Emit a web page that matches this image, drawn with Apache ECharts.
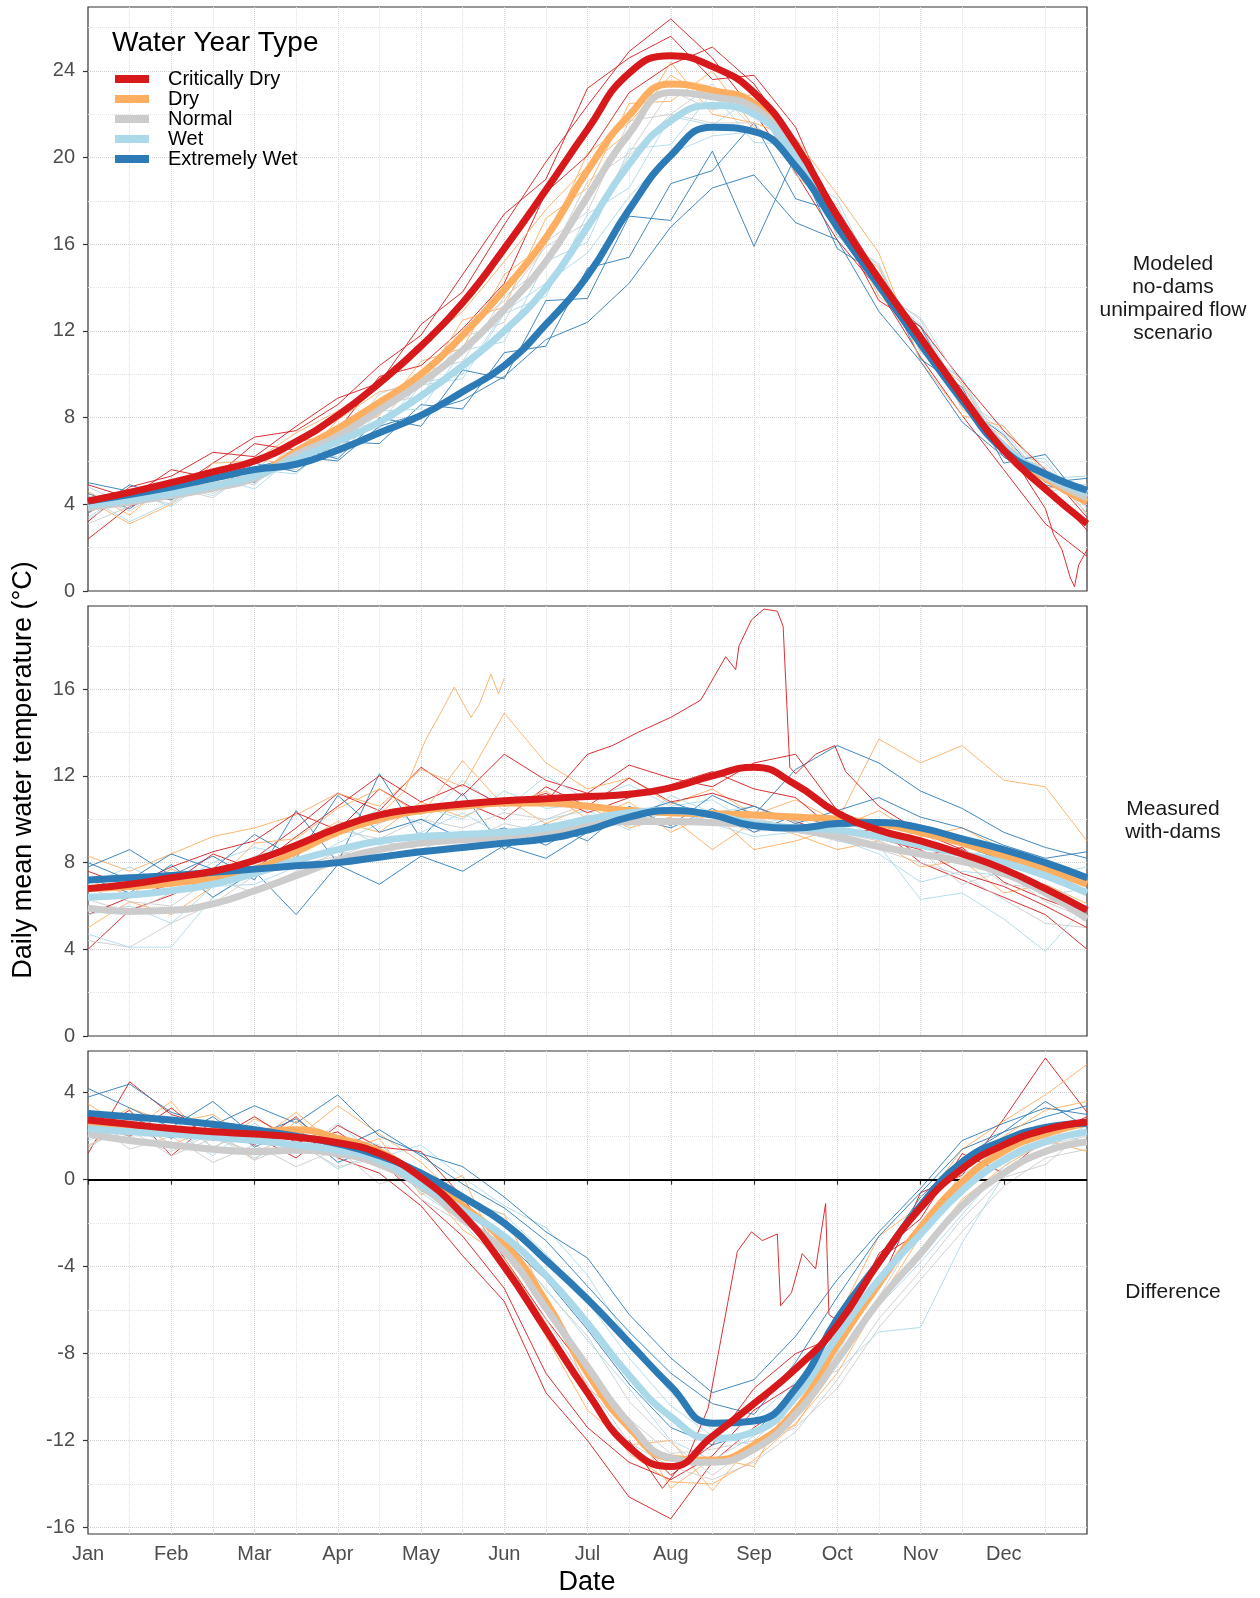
<!DOCTYPE html>
<html>
<head>
<meta charset="utf-8">
<script src="https://cdn.jsdelivr.net/npm/echarts@6/dist/echarts.min.js"></script>
<style>
  html, body { margin: 0; padding: 0; background: #fff; }
  #chart { width: 1260px; height: 1598px; }
</style>
</head>
<body>
<div id="chart"></div>
<script>
// x in months since 1 Jan, sampled every half month
const xs = [0, 0.5, 1, 1.5, 2, 2.5, 3, 3.5, 4, 4.5, 5, 5.5, 6, 6.5, 7, 7.5, 8, 8.5, 9, 9.5, 10, 10.5, 11, 11.5, 12]
const months = ['Jan', 'Feb', 'Mar', 'Apr', 'May', 'Jun', 'Jul', 'Aug', 'Sep', 'Oct', 'Nov', 'Dec']
const monthTicks = [0, 1, 2, 3, 4, 5, 6, 7, 8, 9, 10, 11]
const types = ['Critically Dry', 'Dry', 'Normal', 'Wet', 'Extremely Wet']
const colors = ['#d7191c', '#fdae61', '#cccccc', '#abd9e9', '#2c7bb6']

// --- Modeled no-dams (smoothed) ---
const modCD = [4.15, 4.55, 5.0, 5.5, 6.0, 6.9, 8.1, 9.6, 11.3, 13.3, 15.8, 18.5, 21.3, 23.9, 24.7, 24.2, 23.0, 20.6, 17.3, 14.4, 11.7, 9.0, 6.5, 4.7, 3.1]
const modDry = [3.9, 4.15, 4.5, 4.85, 5.3, 6.45, 7.5, 8.7, 10.0, 11.8, 13.9, 16.3, 19.4, 21.95, 23.4, 23.1, 22.5, 20.3, 17.2, 14.4, 11.6, 8.9, 6.6, 5.2, 4.1]
const modNormal = [3.85, 4.1, 4.4, 4.75, 5.2, 6.3, 7.15, 8.35, 9.6, 11.1, 13.0, 15.2, 18.2, 21.1, 23.0, 22.8, 22.3, 20.1, 17.2, 14.4, 11.7, 9.0, 6.7, 5.3, 4.3]
const modWet = [3.95, 4.2, 4.5, 4.85, 5.3, 6.1, 6.9, 7.8, 9.0, 10.4, 12.0, 14.0, 16.8, 19.7, 21.7, 22.4, 22.0, 20.0, 17.1, 14.3, 11.6, 9.0, 6.7, 5.4, 4.5]
const modEW = [4.15, 4.45, 4.8, 5.2, 5.6, 5.85, 6.5, 7.3, 8.1, 9.2, 10.4, 12.3, 14.55, 17.6, 20.1, 21.4, 21.2, 19.6, 16.8, 14.1, 11.4, 8.8, 6.5, 5.4, 4.65]

// --- Measured with-dams (smoothed) ---
const meaCD = [6.8, 7.0, 7.3, 7.6, 8.1, 8.8, 9.6, 10.2, 10.5, 10.7, 10.85, 10.95, 11.05, 11.15, 11.45, 12.0, 12.4, 11.6, 10.3, 9.5, 9.0, 8.4, 7.7, 6.8, 5.8]
const meaDry = [6.8, 6.9, 7.05, 7.3, 7.7, 8.5, 9.4, 10.0, 10.4, 10.6, 10.75, 10.75, 10.6, 10.4, 10.3, 10.25, 10.2, 10.1, 10.0, 9.8, 9.4, 8.9, 8.3, 7.7, 7.0]
const meaNormal = [5.9, 5.75, 5.8, 6.1, 6.7, 7.4, 8.1, 8.6, 8.9, 9.05, 9.2, 9.4, 9.7, 9.9, 9.9, 9.85, 9.75, 9.55, 9.2, 8.75, 8.4, 8.05, 7.5, 6.6, 5.4]
const meaWet = [6.4, 6.5, 6.7, 7.0, 7.5, 8.1, 8.6, 9.0, 9.2, 9.3, 9.4, 9.6, 10.0, 10.3, 10.4, 10.2, 9.8, 9.6, 9.5, 9.2, 8.8, 8.4, 8.0, 7.4, 6.6]
const meaEW = [7.2, 7.3, 7.4, 7.55, 7.7, 7.85, 8.0, 8.25, 8.5, 8.7, 8.9, 9.1, 9.5, 10.1, 10.4, 10.2, 9.7, 9.6, 9.8, 9.85, 9.6, 9.1, 8.6, 8.0, 7.3]

// --- Difference (smoothed) ---
const difCD = [2.75, 2.55, 2.35, 2.2, 2.1, 1.95, 1.7, 1.2, 0.1, -1.6, -4.0, -6.9, -9.8, -12.3, -13.2, -11.8, -10.3, -8.7, -6.7, -3.8, -1.3, 0.5, 1.6, 2.3, 2.65]
const difDry = [2.65, 2.45, 2.3, 2.2, 2.2, 2.3, 1.9, 1.3, 0.1, -1.2, -2.9, -5.6, -8.9, -11.4, -12.8, -12.9, -12.2, -10.6, -7.6, -4.8, -2.2, -0.1, 1.3, 2.1, 2.6]
const difNormal = [2.1, 1.8, 1.6, 1.4, 1.3, 1.35, 1.2, 0.7, -0.3, -1.8, -3.3, -5.9, -8.6, -11.2, -12.8, -13.0, -12.4, -10.8, -8.3, -5.6, -3.4, -1.2, 0.3, 1.3, 1.75]
const difWet = [2.35, 2.2, 2.1, 1.95, 1.8, 1.6, 1.35, 0.9, -0.2, -1.4, -2.6, -4.4, -6.6, -9.0, -10.9, -11.9, -11.6, -10.0, -7.2, -4.6, -2.5, -0.5, 0.9, 1.75, 2.2]
const difEW = [3.05, 2.9, 2.75, 2.55, 2.3, 2.0, 1.65, 1.1, 0.3, -0.8, -2.0, -3.7, -5.5, -7.5, -9.5, -11.2, -11.1, -9.6, -6.4, -3.8, -1.2, 0.8, 1.8, 2.4, 2.6]

// --- individual years (thin lines), three per type and panel ---
const modThin = [
  [3.2, 4.8, 5.3, 6.4, 6.2, 7.6, 8.9, 9.6, 12.3, 13.8, 16.9, 19.8, 22.4, 24.9, 26.4, 24.6, 22.1, 19.3, 16.2, 13.9, 10.8, 8.1, 5.6, 3.1, 1.6],
  [3.6, 4.5, 4.2, 5.6, 5.1, 6.9, 7.2, 8.1, 10.6, 11.2, 14.6, 16.0, 20.2, 21.6, 23.8, 22.7, 22.9, 19.2, 17.5, 13.6, 12.0, 8.4, 7.1, 4.8, 4.6],
  [4.4, 3.7, 4.8, 4.3, 5.7, 5.6, 7.5, 7.7, 10.1, 10.6, 13.6, 15.0, 18.9, 20.2, 23.1, 22.2, 22.6, 19.4, 17.8, 13.9, 12.3, 8.7, 7.4, 5.0, 4.9],
  [4.8, 3.9, 4.9, 4.4, 5.6, 5.4, 7.1, 7.2, 9.5, 9.8, 12.8, 13.6, 17.4, 18.6, 21.9, 21.5, 22.8, 19.2, 18.1, 14.0, 12.5, 8.8, 7.6, 5.2, 5.3],
  [4.5, 3.8, 5.1, 4.6, 5.9, 5.5, 6.9, 6.8, 8.6, 8.4, 11.0, 11.3, 14.9, 15.4, 18.8, 19.4, 21.6, 18.1, 17.5, 13.8, 12.2, 8.6, 7.2, 5.0, 5.2],
  [4.9, 4.3, 5.6, 5.2, 6.8, 6.5, 7.4, 9.9, 10.4, 12.1, 14.2, 18.4, 20.1, 23.0, 24.3, 25.1, 23.4, 20.7, 17.6, 14.6, 11.7, 8.9, 6.2, 4.9, 2.8],
  [4.6, 3.5, 5.1, 4.6, 6.1, 5.8, 7.9, 9.2, 9.5, 12.5, 13.1, 17.2, 18.6, 22.5, 22.6, 24.0, 21.4, 20.5, 16.4, 14.9, 11.1, 9.6, 6.3, 5.6, 3.6],
  [3.3, 4.5, 4.0, 5.3, 4.9, 6.6, 6.5, 8.6, 9.0, 11.7, 12.4, 16.1, 17.5, 21.7, 22.0, 23.4, 21.3, 20.5, 16.6, 15.0, 11.2, 9.8, 6.5, 5.9, 3.8],
  [3.4, 4.6, 3.9, 5.3, 4.7, 6.3, 6.2, 8.3, 8.4, 11.1, 11.5, 15.2, 16.1, 20.4, 20.6, 23.0, 20.7, 20.6, 16.4, 15.1, 11.0, 9.8, 6.2, 6.1, 3.5],
  [3.6, 4.9, 4.3, 5.6, 5.0, 6.6, 6.1, 8.0, 7.6, 10.2, 9.8, 13.4, 13.5, 17.3, 17.1, 20.3, 15.9, 20.1, 15.8, 14.6, 10.7, 9.4, 5.9, 6.3, 3.9],
  [2.4, 3.9, 4.6, 5.9, 7.1, 7.4, 8.6, 10.4, 11.8, 14.6, 17.4, 19.0, 23.2, 24.6, 25.6, 23.6, 23.8, 21.4, 17.0, 13.4, 12.2, 9.7, 7.4, 5.6, 3.4],
  [4.2, 3.1, 4.0, 5.9, 6.0, 7.3, 8.3, 9.4, 11.4, 12.9, 15.2, 17.6, 19.6, 21.2, 24.4, 22.0, 21.6, 20.9, 18.3, 15.6, 10.6, 8.1, 7.6, 5.4, 4.4],
  [3.1, 3.9, 5.2, 4.5, 5.6, 7.0, 6.7, 9.1, 9.8, 11.9, 13.4, 15.9, 17.0, 20.1, 22.0, 21.6, 21.6, 19.6, 16.6, 13.8, 12.6, 9.5, 6.4, 5.7, 4.1],
  [4.3, 3.2, 4.1, 5.4, 6.0, 6.5, 7.4, 7.5, 9.6, 10.0, 12.9, 14.2, 15.6, 18.2, 20.2, 21.0, 21.2, 20.2, 17.0, 14.7, 11.2, 8.5, 7.3, 4.6, 4.8],
  [5.0, 4.6, 4.2, 5.3, 5.7, 6.2, 6.0, 7.6, 8.2, 8.8, 9.9, 11.6, 12.4, 14.2, 16.8, 18.6, 19.2, 17.0, 16.2, 12.9, 10.6, 7.8, 6.2, 4.9, 4.4]
]
const meaThin = [
  [4.0, 5.8, 6.5, 7.4, 8.2, 9.6, 11.2, 10.4, 12.4, 11.1, 13.0, 11.8, 11.2, 12.5, 11.9, 11.5, 12.6, 13.0, 10.4, 9.6, 8.0, 7.2, 6.4, 5.6, 4.0],
  [8.3, 7.6, 8.4, 9.2, 9.6, 10.2, 11.2, 10.6, 12.3, 11.5, 14.9, 12.6, 11.4, 11.9, 10.7, 11.4, 10.2, 10.9, 9.9, 13.7, 12.6, 13.4, 11.8, 11.5, 9.0],
  [4.4, 4.1, 5.2, 6.1, 7.4, 7.9, 8.3, 9.0, 8.6, 9.4, 9.0, 9.8, 9.5, 10.2, 9.9, 9.7, 10.1, 9.5, 9.0, 8.6, 8.0, 7.4, 6.3, 5.2, 5.0],
  [4.7, 4.1, 4.1, 6.4, 7.6, 8.6, 9.4, 10.5, 9.8, 11.8, 10.4, 12.0, 10.9, 11.6, 10.6, 10.9, 9.7, 10.2, 9.0, 8.8, 6.3, 6.6, 5.4, 3.9, 6.1],
  [7.8, 8.6, 7.4, 8.3, 7.2, 10.4, 8.0, 12.1, 9.1, 11.2, 8.6, 9.8, 9.0, 10.6, 9.7, 11.1, 10.2, 12.3, 13.4, 12.6, 11.3, 10.5, 9.4, 8.7, 8.2],
  [7.6, 6.9, 7.8, 8.5, 9.0, 10.3, 9.5, 11.4, 10.3, 10.8, 10.0, 11.5, 10.6, 11.9, 10.8, 11.2, 10.6, 9.9, 9.2, 9.6, 8.3, 8.7, 7.1, 6.3, 5.6],
  [5.0, 6.2, 5.6, 6.9, 7.4, 8.8, 9.9, 9.4, 10.8, 10.1, 11.0, 9.8, 10.6, 9.6, 10.1, 8.6, 9.9, 9.3, 8.6, 9.0, 7.8, 8.1, 6.6, 7.0, 6.1],
  [6.3, 5.7, 6.6, 7.2, 8.3, 8.8, 9.5, 9.1, 10.0, 9.6, 10.3, 10.0, 10.7, 10.3, 10.5, 10.1, 9.4, 9.8, 9.4, 8.8, 8.5, 7.0, 7.6, 6.2, 5.4],
  [7.0, 7.8, 6.9, 8.0, 8.7, 8.3, 9.8, 8.8, 9.4, 10.3, 9.2, 10.0, 10.4, 9.5, 11.1, 10.3, 10.6, 9.9, 10.1, 9.1, 9.4, 8.3, 8.7, 7.4, 7.8],
  [7.3, 6.6, 7.9, 6.4, 7.6, 5.6, 7.9, 7.0, 8.3, 7.6, 8.8, 8.2, 9.4, 10.1, 9.6, 10.5, 9.4, 10.2, 9.6, 9.9, 9.3, 8.8, 8.1, 7.6, 7.2],
  [5.6, 6.4, 7.0, 8.4, 7.7, 9.2, 10.6, 12.0, 10.8, 11.6, 10.6, 11.2, 10.3, 11.0, 11.6, 12.2, 11.4, 11.0, 9.4, 9.1, 8.6, 7.5, 6.9, 6.0, 5.0],
  [7.2, 6.5, 7.7, 7.0, 8.9, 9.1, 10.5, 11.4, 10.2, 12.7, 10.6, 11.3, 10.0, 10.8, 9.4, 10.3, 8.6, 9.0, 9.6, 10.4, 9.2, 9.6, 8.6, 8.0, 7.3],
  [6.8, 6.2, 6.0, 7.3, 6.6, 7.6, 8.5, 8.2, 9.3, 8.9, 9.8, 9.4, 10.2, 9.7, 10.4, 9.9, 10.0, 9.6, 9.4, 9.0, 8.3, 8.5, 7.0, 6.8, 5.6],
  [5.6, 6.0, 5.2, 6.9, 7.0, 7.8, 8.9, 9.8, 10.6, 10.0, 11.3, 10.5, 10.7, 10.1, 10.4, 9.8, 9.2, 9.4, 9.1, 8.4, 7.1, 7.6, 7.4, 6.5, 6.8],
  [8.0, 7.2, 8.4, 7.7, 9.3, 8.2, 11.1, 9.4, 10.0, 9.1, 9.6, 8.8, 9.9, 10.2, 10.8, 10.1, 10.6, 9.8, 10.4, 11.0, 10.1, 9.6, 8.8, 8.2, 8.5]
]
const difThin = [
  [1.2, 4.5, 3.0, 2.4, 1.6, 2.9, 1.0, 0.3, -1.2, -3.5, -5.6, -9.8, -12.0, -14.6, -15.6, -13.0, -11.4, -10.1, -7.8, -4.9, -0.6, 0.2, 2.8, 5.6, 3.1],
  [3.5, 2.2, 3.6, 1.4, 2.8, 1.9, 3.4, 2.1, 0.8, -1.0, -1.6, -5.5, -9.6, -11.0, -14.2, -12.8, -13.2, -9.8, -6.4, -2.6, -1.2, 1.4, 2.7, 3.9, 5.3],
  [2.8, 1.4, 2.0, 0.8, 1.6, 0.6, 1.4, -0.2, 0.4, -1.5, -2.6, -5.1, -7.2, -10.2, -12.1, -13.6, -12.2, -11.4, -9.6, -6.8, -4.6, -2.4, -0.3, 1.0, 1.4],
  [3.1, 2.0, 2.8, 1.5, 2.3, 1.2, 2.6, 1.0, 1.6, 0.1, -1.2, -2.2, -4.4, -7.4, -9.8, -11.5, -11.0, -9.3, -8.8, -7.0, -6.8, -2.9, 0.2, 1.4, 2.5],
  [3.8, 4.4, 3.1, 2.5, 3.4, 2.6, 3.9, 2.0, 1.2, 0.6, -0.8, -2.4, -3.6, -6.2, -8.2, -9.8, -9.2, -7.2, -4.6, -2.4, -0.4, 1.8, 2.6, 3.3, 3.0],
  [2.0, 3.2, 1.1, 2.7, 2.0, 1.0, 2.5, 1.5, 1.3, -0.8, -3.6, -6.4, -8.9, -11.6, -13.6, -12.2, -9.6, -8.0, -7.2, -3.4, -1.8, 1.2, 0.3, 1.9, 2.2],
  [1.5, 2.9, 1.6, 2.4, 0.9, 2.7, 1.2, 1.9, -0.7, 0.2, -4.0, -7.2, -10.6, -12.2, -12.0, -14.3, -12.0, -11.3, -8.4, -5.8, -3.3, -0.9, 0.6, 1.8, 1.3],
  [1.6, 2.3, 1.1, 1.9, 1.3, 2.0, 1.0, 1.4, -0.1, -1.0, -3.4, -5.8, -8.6, -11.0, -12.6, -12.4, -12.0, -10.2, -8.2, -5.4, -2.2, -0.6, 0.8, 1.6, 2.0],
  [1.8, 2.6, 1.4, 2.2, 1.0, 1.8, 0.5, 1.3, -0.6, -1.9, -3.0, -5.0, -7.4, -9.6, -12.0, -12.9, -11.8, -10.6, -8.0, -4.6, -2.0, 0.2, 1.6, 2.3, 1.7],
  [2.5, 3.0, 1.9, 2.9, 1.5, 2.4, 0.8, 1.5, -0.5, -1.3, -2.8, -4.6, -6.9, -9.4, -11.4, -12.2, -11.6, -9.9, -6.6, -3.6, -0.8, 1.0, 2.2, 2.9, 3.4],
  [2.6, 2.0, 3.3, 1.8, 2.9, 1.7, 2.2, 0.9, -0.9, -2.6, -5.0, -8.9, -11.4, -13.0, -13.8, -12.7, -10.6, -9.4, -6.9, -3.6, -2.4, -0.2, 1.5, 2.0, 2.9],
  [2.2, 3.3, 2.6, 3.0, 1.7, 3.1, 1.5, 0.6, 0.0, -2.3, -3.6, -6.6, -9.9, -12.6, -13.9, -14.0, -12.9, -11.2, -8.9, -5.6, -2.6, 0.4, 2.0, 3.2, 3.6],
  [2.5, 2.0, 1.3, 2.1, 0.9, 1.7, 0.6, 1.0, -0.9, -2.0, -4.0, -6.4, -9.4, -12.1, -13.2, -13.8, -13.0, -11.6, -9.2, -6.4, -4.2, -1.8, 0.1, 0.7, 2.3],
  [1.4, 2.9, 2.3, 1.1, 2.6, 1.3, 2.0, 1.6, 0.2, -0.9, -1.6, -3.4, -5.6, -8.2, -10.4, -11.8, -12.2, -10.7, -8.4, -5.8, -3.8, -1.6, 0.6, 2.4, 2.7],
  [4.2, 3.3, 2.4, 3.6, 2.0, 2.8, 1.4, 2.3, 1.1, -0.2, -1.3, -2.8, -4.9, -7.0, -8.9, -10.3, -10.8, -8.4, -5.4, -2.6, -0.6, 1.4, 2.2, 3.6, 2.4]
]
// type index of each thin line (same order in every panel)
const thinType = [0, 1, 2, 3, 4, 0, 1, 2, 3, 4, 0, 1, 2, 3, 4]

// a few odd years drawn on their own x positions
const modDipX = [11.0, 11.3, 11.5, 11.6, 11.7, 11.8, 11.85, 11.9, 12.0]
const modDipY = [6.9, 5.0, 3.8, 2.6, 1.9, 0.6, 0.2, 1.2, 1.9]
const meaSpikeX = [5.5, 6.0, 6.3, 6.6, 7.0, 7.36, 7.66, 7.78, 7.82, 7.97, 8.12, 8.28, 8.35, 8.43, 8.5, 8.74, 8.97, 9.1, 9.5, 10, 10.5, 11, 11.5, 12]
const meaSpikeY = [10.8, 13.0, 13.4, 14.0, 14.7, 15.5, 17.5, 16.9, 18.0, 19.2, 19.7, 19.6, 18.9, 12.4, 12.1, 13.0, 13.4, 12.2, 10.6, 9.4, 8.6, 7.6, 6.6, 5.9]
const meaJumpX = [3.5, 3.8, 4.06, 4.25, 4.4, 4.6, 4.7, 4.84, 4.93, 5.0]
const meaJumpY = [10.2, 11.3, 13.7, 15.0, 16.1, 14.7, 15.3, 16.7, 15.8, 16.5]
const difBumpX = [6.5, 6.9, 7.2, 7.45, 7.6, 7.8, 7.97, 8.1, 8.28, 8.32, 8.45, 8.58, 8.74, 8.86, 8.9, 9.0, 9.3, 9.6]
const difBumpY = [-12.0, -14.2, -12.8, -10.5, -7.4, -3.3, -2.4, -2.8, -2.5, -5.8, -5.2, -3.4, -4.1, -1.1, -6.2, -6.5, -5.0, -3.4]

// y tick labels and grid lines
const yTicks = [[0, 4, 8, 12, 16, 20, 24], [0, 4, 8, 12, 16], [-16, -12, -8, -4, 0, 4]]
const yGrid = [
  [2, 4, 6, 8, 10, 12, 14, 16, 18, 20, 22, 24, 26],
  [2, 4, 6, 8, 10, 12, 14, 16, 18],
  [-16, -14, -12, -10, -8, -6, -4, -2, 2, 4]
]
const yRange = [[0, 26.95], [0, 19.84], [-16.3, 5.92]]

const smooth = [
  [modCD, modDry, modNormal, modWet, modEW],
  [meaCD, meaDry, meaNormal, meaWet, meaEW],
  [difCD, difDry, difNormal, difWet, difEW]
]
const thins = [modThin, meaThin, difThin]

const FONT = '"Liberation Sans", Arial, sans-serif'
const chart = echarts.init(document.getElementById('chart'), null, { renderer: 'canvas' })

const pair = (xArr, yArr) => xArr.map((x, i) => [x, yArr[i]])

function thinLine(p, color, xArr, yArr) {
  return {
    type: 'line', xAxisIndex: p, yAxisIndex: p, data: pair(xArr, yArr),
    symbol: 'none', silent: true, z: 2,
    lineStyle: { color: color, width: 0.9 }, itemStyle: { color: color }
  }
}

function thickLine(p, i) {
  return {
    name: types[i], type: 'line', xAxisIndex: p, yAxisIndex: p, data: pair(xs, smooth[p][i]),
    symbol: 'none', smooth: 0.5, silent: true, z: 4,
    lineStyle: { color: colors[i], width: 7 }, itemStyle: { color: colors[i] }
  }
}

const grids = [
  { left: 88, top: 7, width: 999, height: 584 },
  { left: 88, top: 606, width: 999, height: 430 },
  { left: 88, top: 1051, width: 999, height: 483 }
].map(g => Object.assign(g, { show: true, borderColor: '#333', borderWidth: 1.2, backgroundColor: '#fff' }))

const xAxes = [0, 1, 2].map(p => ({
  type: 'value', gridIndex: p, min: 0, max: 12, interval: 1,
  axisLine: { show: false },
  axisTick: { show: p === 2, length: 5, customValues: monthTicks, lineStyle: { color: '#333', width: 1.2 } },
  axisLabel: {
    show: p === 2, customValues: monthTicks, formatter: v => months[Math.round(v)],
    fontSize: 20, color: '#4d4d4d', margin: 10, fontFamily: FONT
  },
  splitLine: { show: true, showMinLine: false, showMaxLine: false, lineStyle: { type: 'dotted', color: '#d2d2d2' } },
  minorTick: { show: false, splitNumber: 2 },
  minorSplitLine: { show: true, lineStyle: { type: 'dotted', color: '#e2e2e2' } }
}))

const yAxes = [0, 1, 2].map(p => ({
  type: 'value', gridIndex: p, min: yRange[p][0], max: yRange[p][1],
  axisLine: { show: false },
  splitLine: { show: false },
  axisTick: { show: true, length: 5, customValues: yTicks[p], lineStyle: { color: '#333', width: 1.2 } },
  axisLabel: { customValues: yTicks[p], fontSize: 20, color: '#4d4d4d', margin: 13, fontFamily: FONT }
}))

const series = []
// grid lines across y
for (let p = 0; p < 3; p++) {
  series.push({
    type: 'line', xAxisIndex: p, yAxisIndex: p, data: [], silent: true, z: 1,
    markLine: {
      z: 1, silent: true, symbol: ['none', 'none'], label: { show: false }, animation: false,
      emphasis: { disabled: true },
      lineStyle: { type: 'dotted', color: '#d6d6d6', width: 1 },
      data: yGrid[p].map(v => ({ yAxis: v, lineStyle: { color: v % 4 === 0 ? '#d2d2d2' : '#e2e2e2' } }))
    }
  })
}
// individual years
for (let p = 0; p < 3; p++) {
  thins[p].forEach((arr, k) => series.push(thinLine(p, colors[thinType[k]], xs, arr)))
}
series.push(thinLine(0, colors[0], modDipX, modDipY))
series.push(thinLine(1, colors[0], meaSpikeX, meaSpikeY))
series.push(thinLine(1, colors[1], meaJumpX, meaJumpY))
series.push(thinLine(2, colors[0], difBumpX, difBumpY))
// zero line of the difference panel
series.push({
  type: 'line', xAxisIndex: 2, yAxisIndex: 2, data: [], silent: true, z: 3,
  markLine: {
    z: 3, silent: true, symbol: ['none', 'none'], label: { show: false }, animation: false,
    emphasis: { disabled: true },
    lineStyle: { type: 'solid', color: '#000', width: 1.8 },
    data: [{ yAxis: 0 }]
  }
})
// smoothed lines, critically dry drawn last
const drawOrder = [1, 2, 3, 4, 0]
for (let p = 0; p < 3; p++) {
  drawOrder.forEach(i => series.push(thickLine(p, i)))
}

const option = {
  animation: false,
  backgroundColor: '#fff',
  textStyle: { fontFamily: FONT },
  grid: grids,
  xAxis: xAxes,
  yAxis: yAxes,
  legend: {
    data: types, orient: 'vertical', left: 115, top: 69, padding: 0,
    icon: 'rect', itemWidth: 34, itemHeight: 8, itemGap: 0, selectedMode: false,
    textStyle: { fontSize: 20, lineHeight: 20, color: '#000', padding: [0, 0, 0, 14], fontFamily: FONT }
  },
  graphic: [
    { type: 'text', x: 112, y: 43, z: 10, style: { text: 'Water Year Type', font: '28px ' + FONT, fill: '#000', verticalAlign: 'middle' } },
    { type: 'text', x: 1173, y: 299, style: { text: 'Modeled\nno-dams\nunimpaired flow\nscenario', font: '21px ' + FONT, lineHeight: 23, fill: '#1a1a1a', align: 'center', verticalAlign: 'middle' } },
    { type: 'text', x: 1173, y: 821, style: { text: 'Measured\nwith-dams', font: '21px ' + FONT, lineHeight: 23, fill: '#1a1a1a', align: 'center', verticalAlign: 'middle' } },
    { type: 'text', x: 1173, y: 1292, style: { text: 'Difference', font: '21px ' + FONT, fill: '#1a1a1a', align: 'center', verticalAlign: 'middle' } },
    { type: 'text', x: 587, y: 1583, style: { text: 'Date', font: '27px ' + FONT, fill: '#000', align: 'center', verticalAlign: 'middle' } },
    { type: 'text', x: 24, y: 770, rotation: Math.PI / 2, style: { text: 'Daily mean water temperature (°C)', font: '27px ' + FONT, fill: '#000', align: 'center', verticalAlign: 'middle' } }
  ],
  series: series
}

chart.setOption(option)
</script>
</body>
</html>
